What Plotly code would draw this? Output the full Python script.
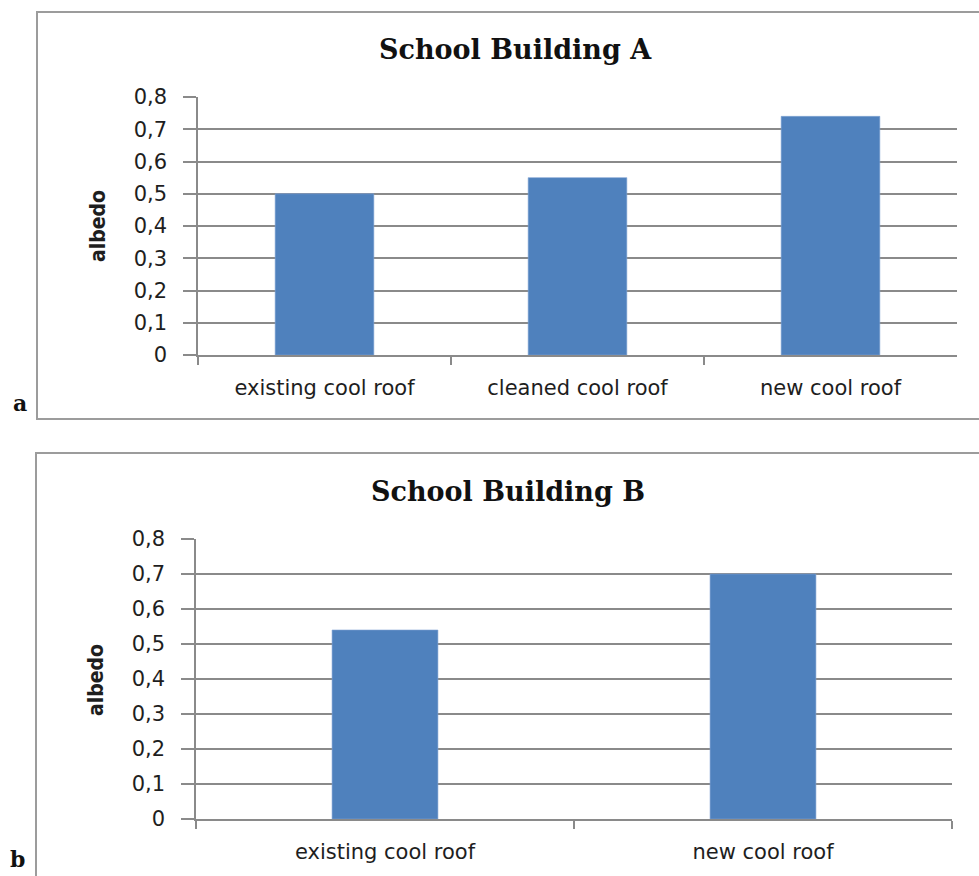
import plotly.graph_objects as go
from plotly.subplots import make_subplots

# Albedo measurements for the two school roofs
categories_a = ["existing cool roof", "cleaned cool roof", "new cool roof"]
albedo_a = [0.50, 0.55, 0.74]
categories_b = ["existing cool roof", "new cool roof"]
albedo_b = [0.54, 0.70]

tick_vals = [0, 0.1, 0.2, 0.3, 0.4, 0.5, 0.6, 0.7, 0.8]
tick_text = ["0", "0,1", "0,2", "0,3", "0,4", "0,5", "0,6", "0,7", "0,8"]

W, H = 979, 876
BAR = "#4F81BD"
GRID = "#8a8a8a"
TXT = "#1e1e1e"
SANS = "DejaVu Sans, Verdana, sans-serif"
SERIF = "DejaVu Serif, Liberation Serif, serif"
NARROW = "Liberation Sans Narrow, DejaVu Sans Condensed, sans-serif"


def px(x):
    return x / W


def py(y):
    return 1 - y / H


fig = make_subplots(rows=2, cols=1)
fig.add_trace(go.Bar(x=categories_a, y=albedo_a, width=0.39,
                     marker=dict(color=BAR, line=dict(width=0.6, color="#7fa3d4")), showlegend=False), row=1, col=1)
fig.add_trace(go.Bar(x=categories_b, y=albedo_b, width=0.28,
                     marker=dict(color=BAR, line=dict(width=0.6, color="#7fa3d4")), showlegend=False), row=2, col=1)

xcommon = dict(showline=True, linecolor=GRID, linewidth=1.5, ticks="outside", tickson="boundaries",
               ticklen=8, tickcolor=GRID, tickwidth=1.5, showgrid=False, automargin=False,
               ticklabelstandoff=13,
               tickfont=dict(family=SANS, size=21, color=TXT), fixedrange=True)
ycommon = dict(range=[0, 0.8], tickvals=tick_vals, ticktext=tick_text, showline=True, linecolor=GRID,
               linewidth=1.5, ticks="outside", ticklen=13, tickcolor=GRID, tickwidth=1.5,
               showgrid=True, gridcolor=GRID, gridwidth=1.5, zeroline=False, automargin=False,
               tickfont=dict(family=SANS, size=21, color=TXT), ticklabelstandoff=12, fixedrange=True)

fig.update_layout(
    width=W, height=H, margin=dict(l=0, r=0, t=0, b=0, autoexpand=False),
    paper_bgcolor="white", plot_bgcolor="white",
    xaxis=dict(domain=[px(198), px(957)], **xcommon),
    yaxis=dict(domain=[py(355), py(97)], **ycommon),
    xaxis2=dict(domain=[px(196), px(952)], **xcommon),
    yaxis2=dict(domain=[py(819), py(539)], **ycommon),
    shapes=[
        dict(type="rect", xref="paper", yref="paper", x0=px(37), x1=px(990), y0=py(419), y1=py(12),
             line=dict(color="#9c9c9c", width=2)),
        dict(type="rect", xref="paper", yref="paper", x0=px(36), x1=px(990), y0=py(890), y1=py(453),
             line=dict(color="#9c9c9c", width=2)),
    ],
    annotations=[
        dict(text="<b>School Building A</b>", x=px(515), y=py(49), xref="paper", yref="paper",
             showarrow=False, xanchor="center", yanchor="middle", font=dict(family=SERIF, size=27, color="#111")),
        dict(text="<b>School Building B</b>", x=px(508), y=py(491), xref="paper", yref="paper",
             showarrow=False, xanchor="center", yanchor="middle", font=dict(family=SERIF, size=27, color="#111")),
        dict(text="<b>albedo</b>", x=px(98), y=py(226), xref="paper", yref="paper", textangle=-90,
             showarrow=False, xanchor="center", yanchor="middle", font=dict(family=NARROW, size=21, color=TXT)),
        dict(text="<b>albedo</b>", x=px(96), y=py(680), xref="paper", yref="paper", textangle=-90,
             showarrow=False, xanchor="center", yanchor="middle", font=dict(family=NARROW, size=21, color=TXT)),
        dict(text="<b>a</b>", x=px(20), y=py(403), xref="paper", yref="paper",
             showarrow=False, xanchor="center", yanchor="middle", font=dict(family=SERIF, size=22, color="#111")),
        dict(text="<b>b</b>", x=px(17), y=py(859), xref="paper", yref="paper",
             showarrow=False, xanchor="center", yanchor="middle", font=dict(family=SERIF, size=22, color="#111")),
    ],
)

fig.write_html("out.html")
